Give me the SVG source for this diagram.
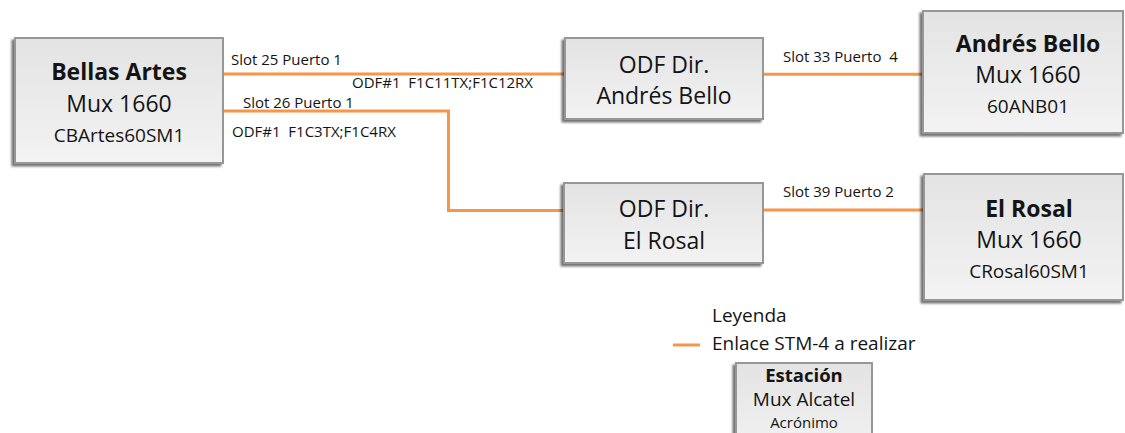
<svg xmlns="http://www.w3.org/2000/svg" width="1125" height="433" viewBox="0 0 1125 433">
  <defs>
    <linearGradient id="boxFill" x1="0" y1="0" x2="0" y2="1">
      <stop offset="0" stop-color="#e3e3e3"/>
      <stop offset="1" stop-color="#f3f3f3"/>
    </linearGradient>
    <filter id="shadow" x="-10%" y="-10%" width="120%" height="125%">
      <feDropShadow dx="-2.5" dy="2.5" stdDeviation="1.2" flood-color="#000" flood-opacity="0.55"/>
    </filter>
  </defs>
  <style>
    .box { fill: url(#boxFill); stroke: #979797; stroke-width: 2; filter: url(#shadow); }
    .link { fill: none; stroke: #f79646; stroke-width: 3; }
    text { font-family: "Open Sans", "Noto Sans", sans-serif; fill: #141414; }
    .t { font-size: 23px; text-anchor: middle; }
    .b { font-weight: bold; }
    .s3 { font-size: 19px; text-anchor: middle; }
    .lbl { font-size: 15px; white-space: pre; }
    .leg { font-size: 19px; }
  </style>
  <rect x="0" y="0" width="1125" height="433" fill="#ffffff"/>

  <g id="connectors">
    <path class="link" d="M223,74 H565"/>
    <path class="link" d="M223,111 H448.5 V210.5 H564"/>
    <path class="link" d="M763,74.3 H923"/>
    <path class="link" d="M763,210 H924"/>
    <path class="link" d="M673,345 H700"/>
    <text class="lbl" x="231" y="65">Slot 25 Puerto 1</text>
    <text class="lbl" x="352" y="88">ODF#1  F1C11TX;F1C12RX</text>
    <text class="lbl" x="243" y="108">Slot 26 Puerto 1</text>
    <text class="lbl" x="232" y="137">ODF#1  F1C3TX;F1C4RX</text>
    <text class="lbl" x="783" y="62">Slot 33 Puerto  4</text>
    <text class="lbl" x="783" y="197">Slot 39 Puerto 2</text>
  </g>

  <g id="node-bellas-artes">
    <rect class="box" x="15" y="38" width="208" height="125"/>
    <text class="t b" x="119" y="80">Bellas Artes</text>
    <text class="t" x="119" y="112">Mux 1660</text>
    <text class="s3" x="119" y="142">CBArtes60SM1</text>
  </g>

  <g id="node-odf-andres-bello">
    <rect class="box" x="565" y="38" width="198" height="81"/>
    <text class="t" x="664" y="73">ODF Dir.</text>
    <text class="t" x="664" y="104">Andrés Bello</text>
  </g>

  <g id="node-odf-el-rosal">
    <rect class="box" x="564" y="183" width="199" height="80"/>
    <text class="t" x="664" y="217">ODF Dir.</text>
    <text class="t" x="664" y="249">El Rosal</text>
  </g>

  <g id="node-andres-bello">
    <rect class="box" x="923" y="11" width="200" height="122"/>
    <text class="t b" x="1028" y="52">Andrés Bello</text>
    <text class="t" x="1028" y="83">Mux 1660</text>
    <text class="s3" x="1028" y="113">60ANB01</text>
  </g>

  <g id="node-el-rosal">
    <rect class="box" x="924" y="174" width="199" height="126"/>
    <text class="t b" x="1029" y="217">El Rosal</text>
    <text class="t" x="1029" y="248">Mux 1660</text>
    <text class="s3" x="1029" y="278">CRosal60SM1</text>
  </g>

  <g id="legend">
    <text class="leg" x="712" y="322">Leyenda</text>
    <text class="leg" x="712" y="350">Enlace STM-4 a realizar</text>
  </g>

  <g id="node-legend-station">
    <rect class="box" x="736" y="363" width="136" height="90"/>
    <text class="b" x="804" y="382" font-size="18.5" text-anchor="middle">Estación</text>
    <text x="804" y="406" font-size="19" text-anchor="middle">Mux Alcatel</text>
    <text x="804" y="428" font-size="15" text-anchor="middle">Acrónimo</text>
  </g>
</svg>
